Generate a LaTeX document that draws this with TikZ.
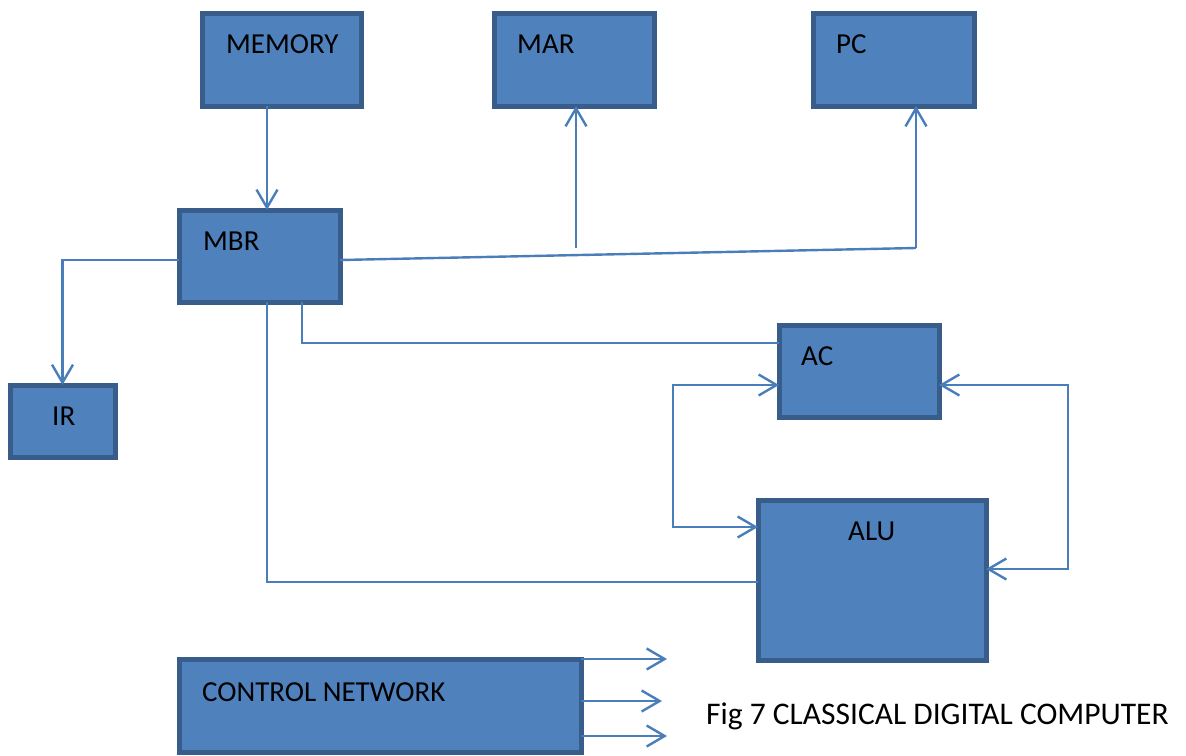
\documentclass[tikz,border=0pt]{standalone}
\usepackage{fontspec}
\setmainfont{Carlito}
\usetikzlibrary{arrows.meta}
\definecolor{boxfill}{HTML}{4F81BD}
\definecolor{boxline}{HTML}{385D8A}
\definecolor{wire}{HTML}{4A7EBB}
\tikzset{
  box/.style={draw=boxline, fill=boxfill, line width=5pt, rectangle, inner sep=0pt, outer sep=0pt, anchor=north west},
  lbl/.style={anchor=base west, inner sep=0pt, font=\fontsize{29}{34}\selectfont, text=black},
  conn/.style={draw=wire, line width=2.4pt},
  arr/.tip={Straight Barb[length=18pt,width=21pt]}
}
\begin{document}
\begin{tikzpicture}[x=1pt,y=-1pt]
\useasboundingbox (0,0) rectangle (1186,755);
% boxes
\node[box, minimum width=159pt, minimum height=93pt] (mem) at (202,13) {};
\node[box, minimum width=160pt, minimum height=93pt] (mar) at (494,13) {};
\node[box, minimum width=161pt, minimum height=93pt] (pc) at (813,13) {};
\node[box, minimum width=161pt, minimum height=92pt] (mbr) at (179,210) {};
\node[box, minimum width=105pt, minimum height=72pt] (ir) at (10,385) {};
\node[box, minimum width=160pt, minimum height=92pt] (ac) at (779,325) {};
\node[box, minimum width=228pt, minimum height=160pt] (alu) at (758,500) {};
\node[box, minimum width=402pt, minimum height=93pt] (ctl) at (179,659) {};
% labels
\node[lbl] (memT) at (226,53) {MEMORY};
\node[lbl] (marT) at (517,53) {MAR};
\node[lbl] (pcT) at (836,53) {PC};
\node[lbl] (mbrT) at (203,250) {MBR};
\node[lbl] (irT) at (52,425) {IR};
\node[lbl] (acT) at (801,365) {AC};
\node[lbl] (aluT) at (848,540) {ALU};
\node[lbl] (ctlT) at (202,701) {CONTROL NETWORK};
\node[lbl, font=\fontsize{31.5}{36}\selectfont] (fig) at (706,724) {Fig 7 CLASSICAL DIGITAL COMPUTER};
% junction points
\coordinate (pcc) at (916,248);
\coordinate (marc) at (576,248);
% connectors
\draw[conn, -{arr}] ([xshift=65pt]mem.south west) -- ([xshift=88pt]mbr.north west);
\draw[conn] ([yshift=-4pt]mbr.east) -- (pcc);
\draw[conn, -{arr}] (pcc) -- ([xshift=103pt]pc.south west);
\draw[conn, -{arr}] (marc) -- ([xshift=82pt]mar.south west);
\draw[conn, -{arr}] ([yshift=-4pt]mbr.west) -| (ir.north);
\draw[conn] ([xshift=123pt]mbr.south west) |- ([yshift=28pt]ac.west);
\draw[conn] ([xshift=88pt]mbr.south west) |- ([yshift=-2pt]alu.west);
\draw[conn, {arr}-{arr}] ([yshift=-14pt]ac.west) -- ++(-106,0) |- ([yshift=53pt]alu.west);
\draw[conn, {arr}-{arr}] ([yshift=-14pt]ac.east) -- ++(129,0) |- ([yshift=11pt]alu.east);
\draw[conn, -{arr}] (ctl.north east) -- ++(86,0);
\draw[conn, -{arr}] ([yshift=4.5pt]ctl.east) -- ++(81,0);
\draw[conn, -{arr}] ([yshift=-30.5pt]ctl.east) -- ++(86,0);
\end{tikzpicture}
\end{document}
